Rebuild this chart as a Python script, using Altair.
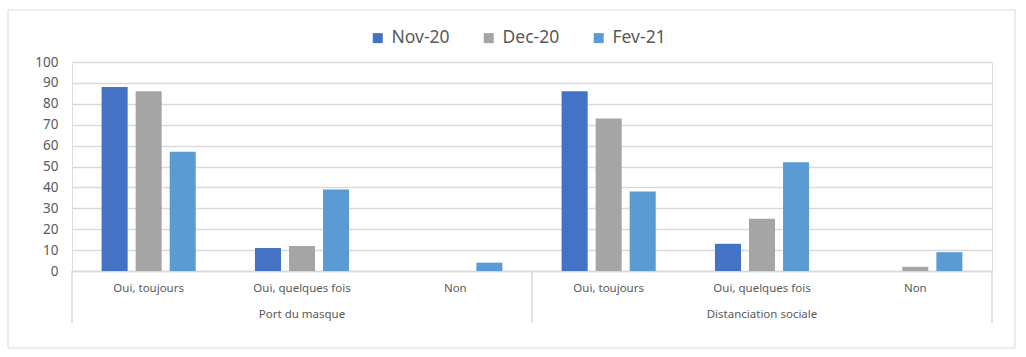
import altair as alt
import pandas as pd

groups = ["Port du masque", "Distanciation sociale"]
answers = ["Oui, toujours", "Oui, quelques fois", "Non"]
series = ["Nov-20", "Dec-20", "Fev-21"]
colors = ["#4472C4", "#A5A5A5", "#5B9BD5"]

# values per (group, answer), in the order groups x answers
nov = [88, 11, 0, 86, 13, 0]
dec = [86, 12, 0, 73, 25, 2]
fev = [57, 39, 4, 38, 52, 9]

keys = [f"{g}|{a}" for g in groups for a in answers]
values = {"Nov-20": nov, "Dec-20": dec, "Fev-21": fev}

rows = []
for s in series:
    for k, v in zip(keys, values[s]):
        rows.append({"key": k, "serie": s, "value": v})
df = pd.DataFrame(rows)

W, H = 920, 209
FONT = "Noto Sans"
TXT = "#595959"
GRID = "#d9d9d9"

xscale = alt.Scale(domain=keys, paddingInner=0, paddingOuter=0)

frame = alt.Chart(pd.DataFrame({"a": [0]})).mark_rect(
    fillOpacity=0, stroke=GRID, strokeWidth=1
).encode(
    x=alt.value(-64), x2=alt.value(943), y=alt.value(-52), y2=alt.value(286)
)

bars = alt.Chart(df).mark_bar().encode(
    x=alt.X("key:N", scale=xscale, sort=keys,
            axis=alt.Axis(title=None, labelAngle=0, ticks=False, grid=False,
                          domainColor=GRID, domainWidth=1.5, labelPadding=11,
                          labelColor=TXT, labelFontSize=11.5, labelFont=FONT,
                          labelExpr="split(datum.value, '|')[1]")),
    xOffset=alt.XOffset("serie:N", sort=series,
                        scale=alt.Scale(domain=series, paddingInner=0.235, paddingOuter=0.87)),
    y=alt.Y("value:Q", scale=alt.Scale(domain=[0, 100], nice=False),
            axis=alt.Axis(title=None, values=list(range(0, 101, 10)), domain=False,
                          ticks=False, gridColor=GRID, gridWidth=1.3, labelPadding=14,
                          labelColor=TXT, labelFontSize=13.5, labelFont=FONT)),
    color=alt.Color("serie:N", sort=series,
                    scale=alt.Scale(domain=series, range=colors),
                    legend=alt.Legend(title=None, orient="none", direction="horizontal",
                                      legendX=297, legendY=-33, symbolType="square",
                                      symbolSize=100, symbolStrokeWidth=0,
                                      labelFontSize=17.5, labelFont=FONT, labelColor=TXT,
                                      labelOffset=5, columnPadding=30)),
)

sep_df = pd.DataFrame({"key": [keys[0], keys[3]]})
seps = alt.Chart(sep_df).mark_rule(color=GRID, strokeWidth=1.5).encode(
    x=alt.X("key:N", scale=xscale, sort=keys, bandPosition=0),
    y=alt.value(H), y2=alt.value(H + 52),
)
sep_end = alt.Chart(pd.DataFrame({"key": [keys[5]]})).mark_rule(color=GRID, strokeWidth=1.5).encode(
    x=alt.X("key:N", scale=xscale, sort=keys, bandPosition=1),
    y=alt.value(H), y2=alt.value(H + 52),
)

grp_df = pd.DataFrame({"key": [f"{g}|{answers[1]}" for g in groups], "label": groups})
grp_labels = alt.Chart(grp_df).mark_text(
    font=FONT, fontSize=11.5, color=TXT, baseline="middle", align="center"
).encode(
    x=alt.X("key:N", scale=xscale, sort=keys),
    y=alt.value(H + 44),
    text="label:N",
)

chart = alt.layer(frame, bars, seps, sep_end, grp_labels).properties(
    width=W, height=H,
    autosize=alt.AutoSizeParams(type="none"),
    padding={"left": 72, "top": 62, "right": 34, "bottom": 86},
).configure_view(stroke=None).configure(background="white")

chart.save("out.html", embed_options={"renderer": "svg", "actions": False})
